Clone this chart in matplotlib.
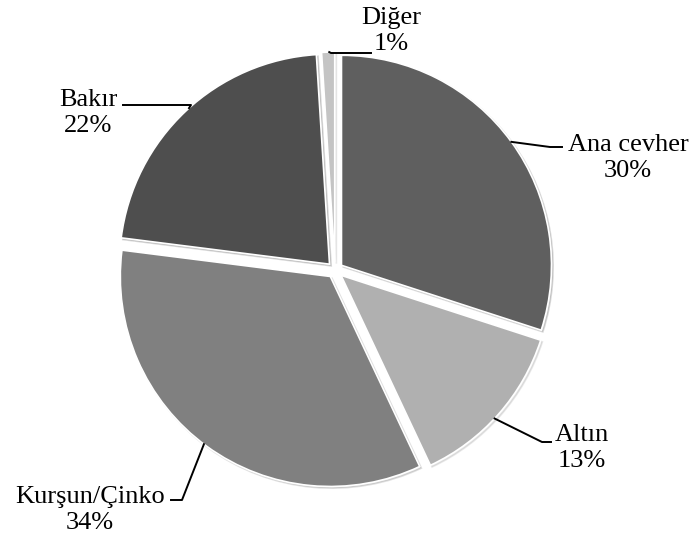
import numpy as np
import matplotlib.pyplot as plt

labels = ['Ana cevher', 'Altın', 'Kurşun/Çinko', 'Bakır', 'Diğer']
values = [30, 13, 34, 22, 1]
colors = ['#5f5f5f', '#b0b0b0', '#808080', '#4e4e4e', '#c4c4c4']

# layout (pixels, y measured from top of the image)
W, H = 693, 540
cx, cy, R = 335, 270, 210
explode = [8, 8, 8, 8, 8]
label_pos = [(628, 158), (582, 448), (90, 510), (88, 113), (391, 31)]
anchor_ang = [36, -43, -127, 132, 91.5]
elbow = [(550, 147), (542, 442), (182, 500), (191, 105), (331, 53)]
line_end = [(562, 147), (551, 442), (171, 500), (123, 105), (371, 53)]

plt.rcParams['font.family'] = ['Liberation Serif', 'DejaVu Serif']
fig = plt.figure(figsize=(W / 100, H / 100), dpi=100)
ax = fig.add_axes([0, 0, 1, 1])

wedges, _ = ax.pie(values, colors=colors, startangle=90, counterclock=False,
                   explode=explode, center=(cx, H - cy), radius=R,
                   shadow=dict(ox=1.2, oy=-1.2, shade=0.2, alpha=0.2),
                   wedgeprops=dict(edgecolor='white', linewidth=1.2))
ax.set_xlim(0, W)
ax.set_ylim(0, H)
ax.set_aspect('equal')
ax.axis('off')

for w, lab, v, (tx, ty), a, (ex, ey), (fx, fy) in zip(
        wedges, labels, values, label_pos, anchor_ang, elbow, line_end):
    ox, oy = w.center
    sx = ox + R * np.cos(np.radians(a))
    sy = oy + R * np.sin(np.radians(a))
    ax.plot([sx, ex, fx], [sy, H - ey, H - fy], color='black', lw=1.4)
    ax.text(tx, H - ty, f'{lab}\n{v}%', ha='center', va='center',
            fontsize=19, linespacing=1.25)

fig.savefig('out.png', dpi=100)
